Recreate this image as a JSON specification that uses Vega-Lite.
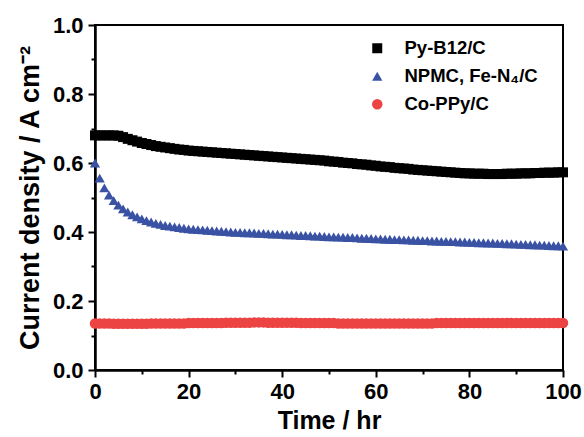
{
  "$schema": "https://vega.github.io/schema/vega-lite/v6.json",
  "width": 468,
  "height": 345,
  "autosize": "none",
  "padding": {"left": 95, "top": 25, "right": 21, "bottom": 67},
  "background": "white",
  "config": {
    "font": "Liberation Sans",
    "view": {"stroke": "black", "strokeWidth": 2},
    "axis": {"grid": false, "domainColor": "black", "domainWidth": 2.5, "tickColor": "black", "tickWidth": 2, "labelFont": "Liberation Sans", "labelFontWeight": "bold", "labelFontSize": 22, "labelColor": "black", "titleFont": "Liberation Sans", "titleFontWeight": "bold", "titleFontSize": 25, "titleColor": "black"}
  },
  "data": {"values": [
    {"t":0,"a":0.680,"b":0.600,"c":0.135},
    {"t":1,"a":0.680,"b":0.556,"c":0.135},
    {"t":2,"a":0.680,"b":0.528,"c":0.135},
    {"t":3,"a":0.680,"b":0.507,"c":0.135},
    {"t":4,"a":0.680,"b":0.491,"c":0.134},
    {"t":5,"a":0.679,"b":0.478,"c":0.134},
    {"t":6,"a":0.675,"b":0.467,"c":0.134},
    {"t":7,"a":0.670,"b":0.458,"c":0.134},
    {"t":8,"a":0.666,"b":0.450,"c":0.134},
    {"t":9,"a":0.662,"b":0.444,"c":0.134},
    {"t":10,"a":0.658,"b":0.438,"c":0.134},
    {"t":11,"a":0.655,"b":0.433,"c":0.134},
    {"t":12,"a":0.652,"b":0.429,"c":0.135},
    {"t":13,"a":0.649,"b":0.425,"c":0.135},
    {"t":14,"a":0.647,"b":0.422,"c":0.135},
    {"t":15,"a":0.645,"b":0.419,"c":0.135},
    {"t":16,"a":0.643,"b":0.417,"c":0.135},
    {"t":17,"a":0.641,"b":0.415,"c":0.135},
    {"t":18,"a":0.639,"b":0.413,"c":0.135},
    {"t":19,"a":0.638,"b":0.411,"c":0.135},
    {"t":20,"a":0.636,"b":0.409,"c":0.136},
    {"t":21,"a":0.635,"b":0.408,"c":0.136},
    {"t":22,"a":0.634,"b":0.407,"c":0.136},
    {"t":23,"a":0.633,"b":0.406,"c":0.136},
    {"t":24,"a":0.632,"b":0.405,"c":0.136},
    {"t":25,"a":0.631,"b":0.404,"c":0.136},
    {"t":26,"a":0.630,"b":0.403,"c":0.136},
    {"t":27,"a":0.629,"b":0.402,"c":0.136},
    {"t":28,"a":0.628,"b":0.401,"c":0.137},
    {"t":29,"a":0.627,"b":0.400,"c":0.137},
    {"t":30,"a":0.626,"b":0.399,"c":0.137},
    {"t":31,"a":0.625,"b":0.399,"c":0.137},
    {"t":32,"a":0.624,"b":0.398,"c":0.137},
    {"t":33,"a":0.623,"b":0.398,"c":0.137},
    {"t":34,"a":0.622,"b":0.397,"c":0.138},
    {"t":35,"a":0.621,"b":0.396,"c":0.138},
    {"t":36,"a":0.620,"b":0.396,"c":0.138},
    {"t":37,"a":0.619,"b":0.395,"c":0.137},
    {"t":38,"a":0.618,"b":0.394,"c":0.137},
    {"t":39,"a":0.617,"b":0.394,"c":0.137},
    {"t":40,"a":0.616,"b":0.393,"c":0.137},
    {"t":41,"a":0.615,"b":0.392,"c":0.137},
    {"t":42,"a":0.614,"b":0.392,"c":0.137},
    {"t":43,"a":0.613,"b":0.391,"c":0.137},
    {"t":44,"a":0.612,"b":0.390,"c":0.136},
    {"t":45,"a":0.611,"b":0.390,"c":0.136},
    {"t":46,"a":0.610,"b":0.389,"c":0.136},
    {"t":47,"a":0.609,"b":0.388,"c":0.136},
    {"t":48,"a":0.608,"b":0.388,"c":0.136},
    {"t":49,"a":0.607,"b":0.387,"c":0.136},
    {"t":50,"a":0.605,"b":0.386,"c":0.136},
    {"t":51,"a":0.604,"b":0.386,"c":0.136},
    {"t":52,"a":0.603,"b":0.385,"c":0.135},
    {"t":53,"a":0.601,"b":0.385,"c":0.135},
    {"t":54,"a":0.600,"b":0.384,"c":0.135},
    {"t":55,"a":0.599,"b":0.384,"c":0.135},
    {"t":56,"a":0.597,"b":0.383,"c":0.135},
    {"t":57,"a":0.596,"b":0.382,"c":0.135},
    {"t":58,"a":0.595,"b":0.382,"c":0.135},
    {"t":59,"a":0.593,"b":0.381,"c":0.135},
    {"t":60,"a":0.592,"b":0.380,"c":0.135},
    {"t":61,"a":0.590,"b":0.380,"c":0.135},
    {"t":62,"a":0.589,"b":0.379,"c":0.135},
    {"t":63,"a":0.588,"b":0.379,"c":0.135},
    {"t":64,"a":0.586,"b":0.378,"c":0.135},
    {"t":65,"a":0.585,"b":0.378,"c":0.135},
    {"t":66,"a":0.584,"b":0.377,"c":0.135},
    {"t":67,"a":0.583,"b":0.377,"c":0.135},
    {"t":68,"a":0.581,"b":0.376,"c":0.135},
    {"t":69,"a":0.580,"b":0.376,"c":0.135},
    {"t":70,"a":0.579,"b":0.375,"c":0.135},
    {"t":71,"a":0.578,"b":0.375,"c":0.135},
    {"t":72,"a":0.577,"b":0.374,"c":0.135},
    {"t":73,"a":0.576,"b":0.374,"c":0.136},
    {"t":74,"a":0.575,"b":0.373,"c":0.136},
    {"t":75,"a":0.574,"b":0.373,"c":0.136},
    {"t":76,"a":0.573,"b":0.372,"c":0.136},
    {"t":77,"a":0.572,"b":0.372,"c":0.136},
    {"t":78,"a":0.571,"b":0.371,"c":0.136},
    {"t":79,"a":0.570,"b":0.371,"c":0.136},
    {"t":80,"a":0.570,"b":0.370,"c":0.136},
    {"t":81,"a":0.569,"b":0.370,"c":0.136},
    {"t":82,"a":0.569,"b":0.369,"c":0.136},
    {"t":83,"a":0.569,"b":0.369,"c":0.136},
    {"t":84,"a":0.568,"b":0.368,"c":0.136},
    {"t":85,"a":0.568,"b":0.368,"c":0.136},
    {"t":86,"a":0.568,"b":0.367,"c":0.136},
    {"t":87,"a":0.568,"b":0.367,"c":0.136},
    {"t":88,"a":0.569,"b":0.366,"c":0.136},
    {"t":89,"a":0.569,"b":0.366,"c":0.136},
    {"t":90,"a":0.569,"b":0.365,"c":0.136},
    {"t":91,"a":0.570,"b":0.364,"c":0.136},
    {"t":92,"a":0.570,"b":0.364,"c":0.136},
    {"t":93,"a":0.570,"b":0.363,"c":0.136},
    {"t":94,"a":0.571,"b":0.363,"c":0.136},
    {"t":95,"a":0.571,"b":0.362,"c":0.136},
    {"t":96,"a":0.572,"b":0.362,"c":0.136},
    {"t":97,"a":0.572,"b":0.361,"c":0.136},
    {"t":98,"a":0.572,"b":0.360,"c":0.136},
    {"t":99,"a":0.573,"b":0.360,"c":0.136},
    {"t":100,"a":0.573,"b":0.359,"c":0.136}
  ]},
  "transform": [
    {"fold": ["a", "b", "c"], "as": ["key", "j"]},
    {"lookup": "key", "from": {"data": {"values": [
      {"key": "a", "series": "Py-B12/C"},
      {"key": "b", "series": "NPMC, Fe-N₄/C"},
      {"key": "c", "series": "Co-PPy/C"}
    ]}, "key": "key", "fields": ["series"]}}
  ],
  "mark": {"type": "point", "filled": true, "opacity": 1},
  "encoding": {
    "x": {"field": "t", "type": "quantitative", "title": "Time / hr",
      "scale": {"domain": [0, 100], "nice": false, "zero": false},
      "axis": {"values": [0,10,20,30,40,50,60,70,80,90,100], "labelExpr": "datum.value % 20 === 0 ? datum.label : ''",
        "tickSize": {"condition": {"test": "datum.value % 20 === 0", "value": 7}, "value": 4},
        "labelPadding": 4, "titlePadding": 6, "labelFlush": false}},
    "y": {"field": "j", "type": "quantitative", "title": "Current density / A cm⁻²",
      "scale": {"domain": [0, 1], "nice": false},
      "axis": {"values": [0,0.1,0.2,0.3,0.4,0.5,0.6,0.7,0.8,0.9,1.0], "format": ".1f",
        "labelExpr": "round(datum.value*10) % 2 === 0 ? datum.label : ''",
        "tickSize": {"condition": {"test": "round(datum.value*10) % 2 === 0", "value": 7}, "value": 4},
        "labelPadding": 5, "titlePadding": 8, "titleFontSize": 27, "labelFlush": false}},
    "color": {"field": "series", "type": "nominal",
      "scale": {"domain": ["Py-B12/C", "NPMC, Fe-N₄/C", "Co-PPy/C"], "range": ["#000000", "#3a52a3", "#ec4343"]},
      "legend": {"title": null, "orient": "none", "legendX": 273, "legendY": 14, "padding": 0,
        "labelFont": "Liberation Sans", "labelFontWeight": "bold", "labelFontSize": 18.5, "labelColor": "black",
        "symbolSize": 100, "labelOffset": 18, "rowPadding": 9, "symbolOpacity": 1}},
    "shape": {"field": "series", "type": "nominal",
      "scale": {"domain": ["Py-B12/C", "NPMC, Fe-N₄/C", "Co-PPy/C"], "range": ["square", "triangle-up", "circle"]}},
    "size": {"field": "series", "type": "nominal",
      "scale": {"domain": ["Py-B12/C", "NPMC, Fe-N₄/C", "Co-PPy/C"], "range": [100, 110, 55]}, "legend": null}
  }
}
